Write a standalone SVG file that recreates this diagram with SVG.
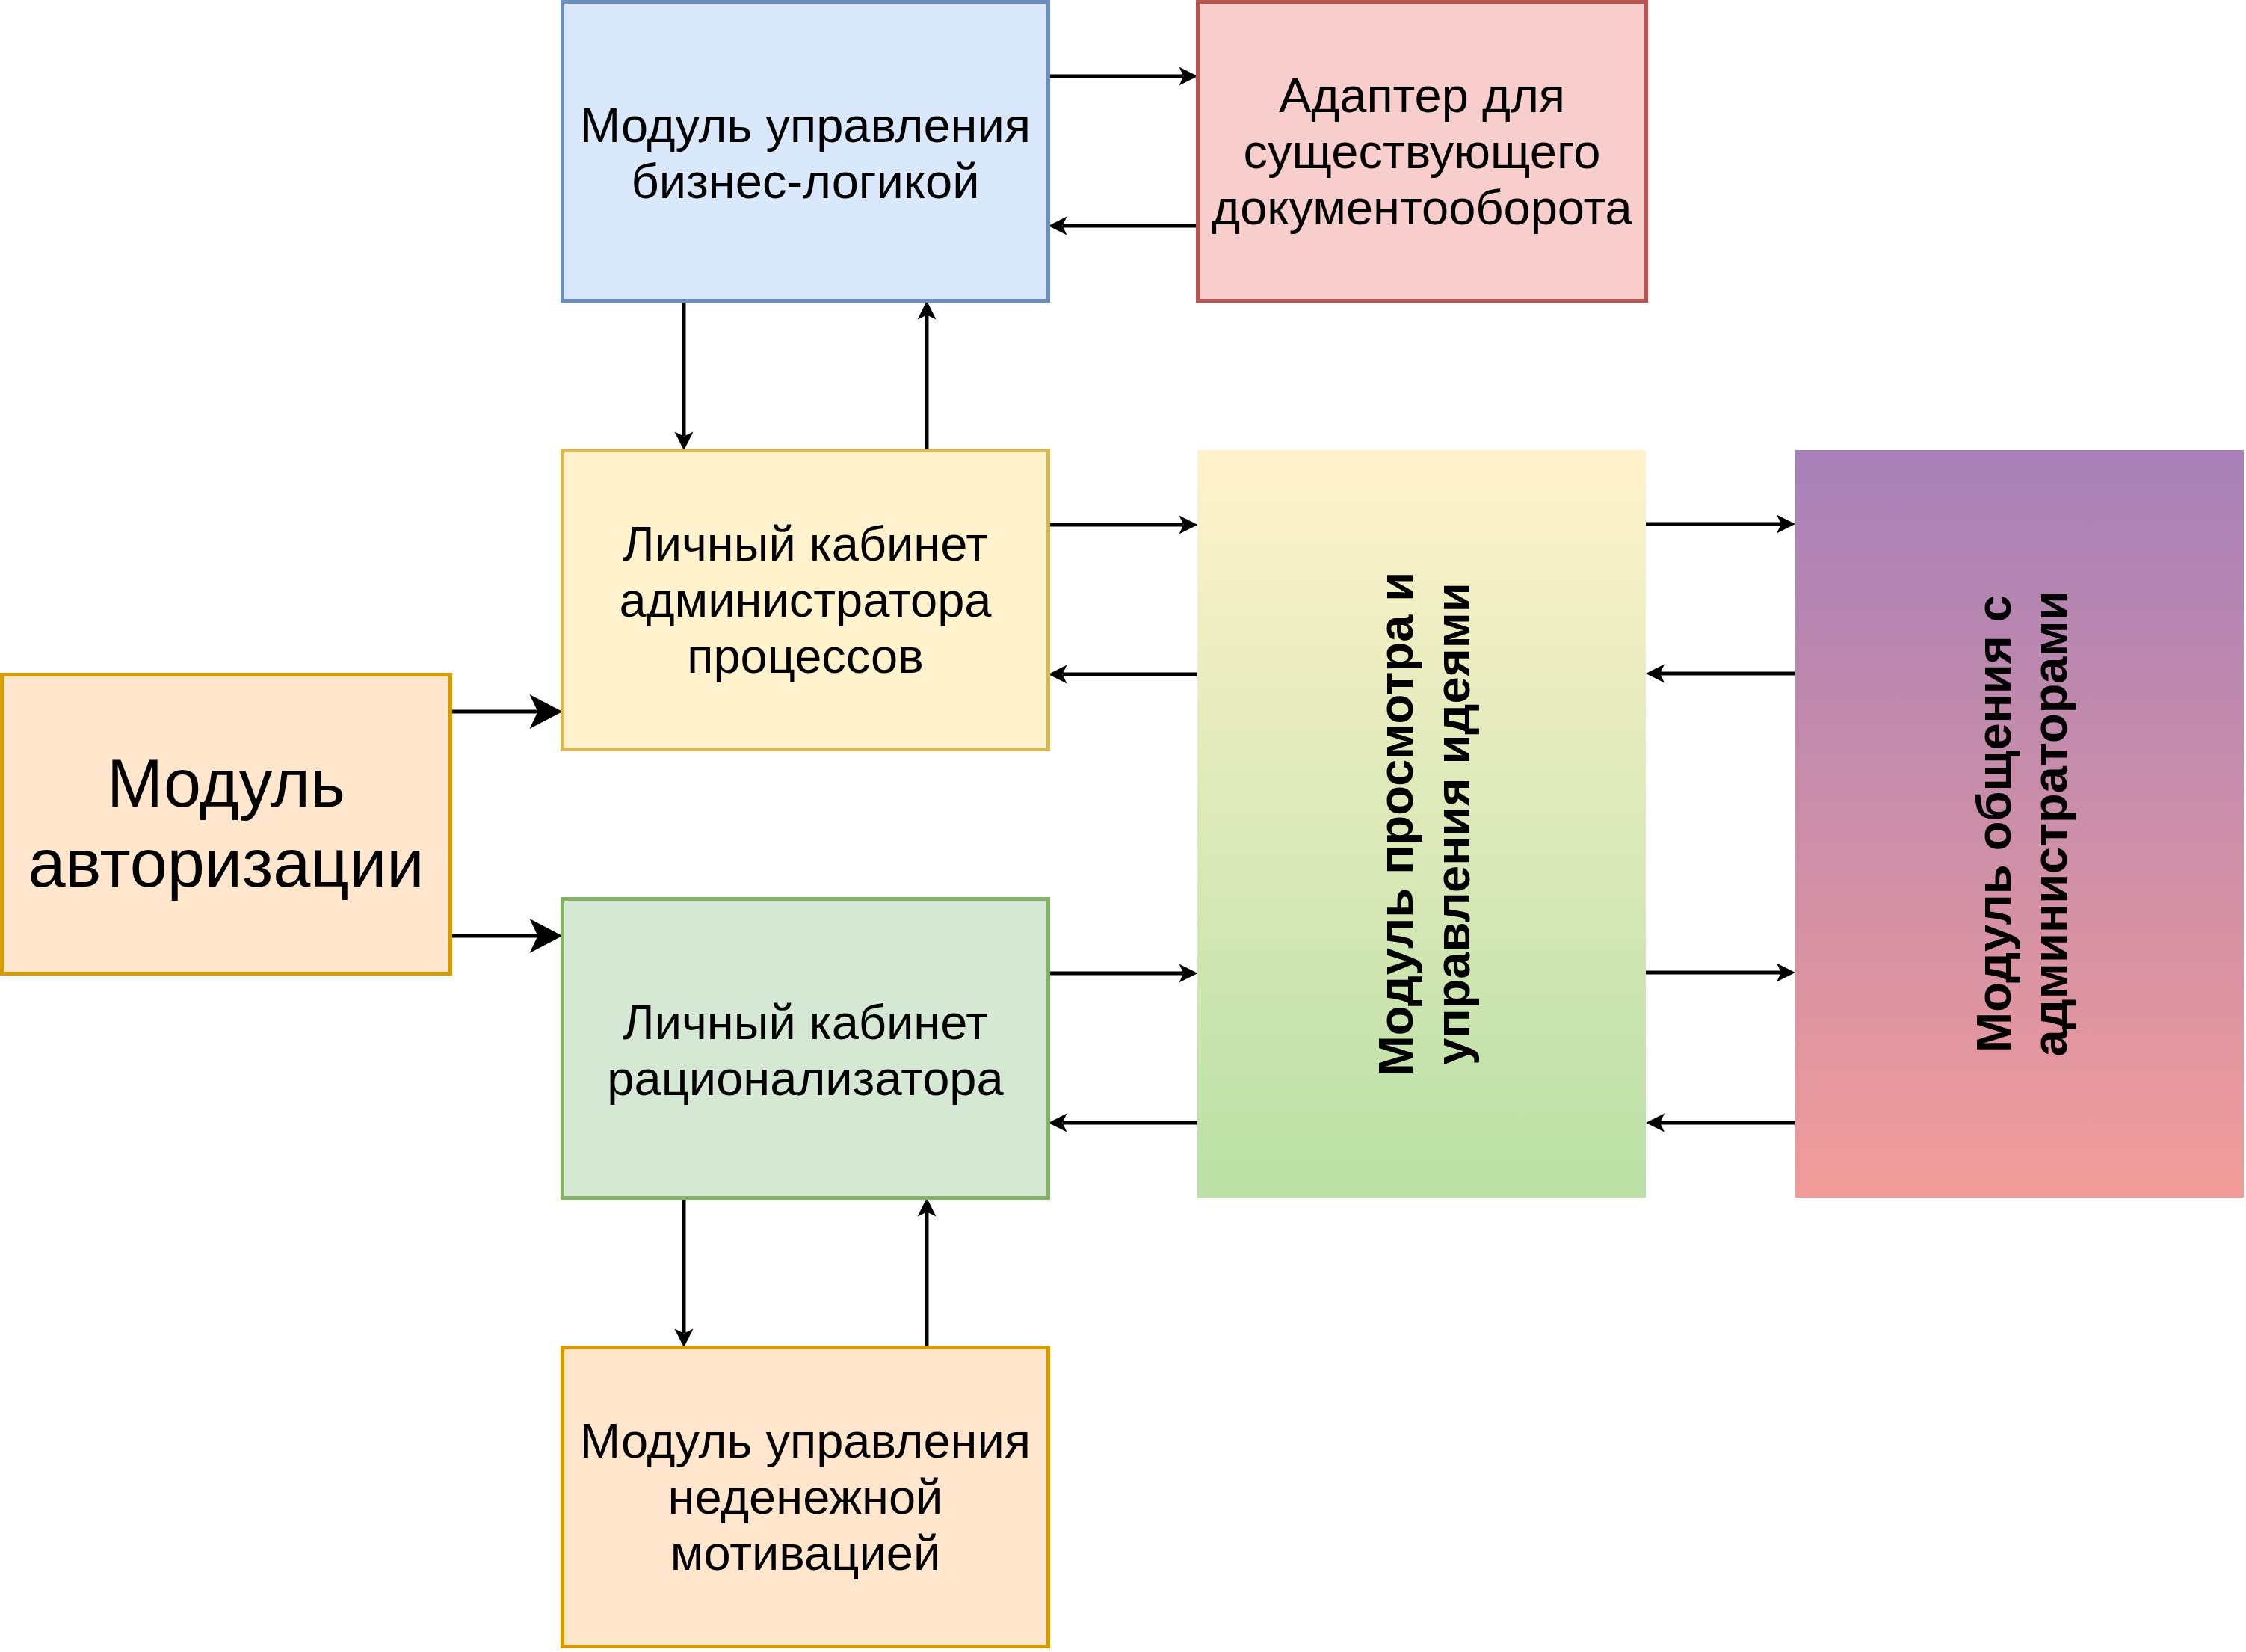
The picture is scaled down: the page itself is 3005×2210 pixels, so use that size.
<svg xmlns="http://www.w3.org/2000/svg" width="3005" height="2210" viewBox="0 0 3005 2210">
<defs>
<linearGradient id="gGreen" x1="0" y1="0" x2="0" y2="1"><stop offset="0" stop-color="#fff2cc"/><stop offset="1" stop-color="#b9e0a5"/></linearGradient>
<linearGradient id="gPurple" x1="0" y1="0" x2="0" y2="1"><stop offset="0" stop-color="#a680b8"/><stop offset="1" stop-color="#f19c99"/></linearGradient>
<style>
.box{stroke-width:5}
.lbl{font-family:"Liberation Sans",Arial,sans-serif;font-size:65px;fill:#000;text-anchor:middle}
.big{font-size:90px}
.bold{font-weight:bold}
.c{fill:none;stroke:#000;stroke-width:5}
</style>
</defs>
<rect width="3005" height="2210" fill="#fff"/>
<g id="connectors">
<line class="c" x1="1402.5" y1="102" x2="1583" y2="102"/><path d="M1602.5,102 l-25,-12.5 l6,12.5 l-6,12.5 Z"/>
<line class="c" x1="1602.5" y1="302" x2="1422" y2="302"/><path d="M1402.5,302 l25,-12.5 l-6,12.5 l6,12.5 Z"/>
<line class="c" x1="915" y1="402.5" x2="915" y2="583"/><path d="M915,602.5 l-12.5,-25 l12.5,6 l12.5,-6 Z"/>
<line class="c" x1="1240" y1="602.5" x2="1240" y2="422"/><path d="M1240,402.5 l-12.5,25 l12.5,-6 l12.5,6 Z"/>
<line class="c" x1="1402.5" y1="702" x2="1583" y2="702"/><path d="M1602.5,702 l-25,-12.5 l6,12.5 l-6,12.5 Z"/>
<line class="c" x1="1602.5" y1="902" x2="1422" y2="902"/><path d="M1402.5,902 l25,-12.5 l-6,12.5 l6,12.5 Z"/>
<line class="c" x1="602.5" y1="952" x2="720" y2="952"/><path d="M752.5,952 l-44,-23 l11,23 l-11,23 Z"/>
<line class="c" x1="602.5" y1="1252" x2="720" y2="1252"/><path d="M752.5,1252 l-44,-23 l11,23 l-11,23 Z"/>
<line class="c" x1="1402.5" y1="1302" x2="1583" y2="1302"/><path d="M1602.5,1302 l-25,-12.5 l6,12.5 l-6,12.5 Z"/>
<line class="c" x1="1602.5" y1="1502" x2="1422" y2="1502"/><path d="M1402.5,1502 l25,-12.5 l-6,12.5 l6,12.5 Z"/>
<line class="c" x1="915" y1="1602.5" x2="915" y2="1783"/><path d="M915,1802.5 l-12.5,-25 l12.5,6 l12.5,-6 Z"/>
<line class="c" x1="1240" y1="1802.5" x2="1240" y2="1622"/><path d="M1240,1602.5 l-12.5,25 l12.5,-6 l12.5,6 Z"/>
<line class="c" x1="2202" y1="701" x2="2383" y2="701"/><path d="M2402,701 l-25,-12.5 l6,12.5 l-6,12.5 Z"/>
<line class="c" x1="2402" y1="901" x2="2221" y2="901"/><path d="M2202,901 l25,-12.5 l-6,12.5 l6,12.5 Z"/>
<line class="c" x1="2202" y1="1301" x2="2383" y2="1301"/><path d="M2402,1301 l-25,-12.5 l6,12.5 l-6,12.5 Z"/>
<line class="c" x1="2402" y1="1502" x2="2221" y2="1502"/><path d="M2202,1502 l25,-12.5 l-6,12.5 l6,12.5 Z"/>
</g>
<g id="node-business">
<rect class="box" x="752.5" y="2.5" width="650" height="400" fill="#dae8fc" stroke="#6c8ebf"/>
<text class="lbl" x="1077.5" y="190">Модуль управления</text>
<text class="lbl" x="1077.5" y="265">бизнес-логикой</text>
</g>
<g id="node-adapter">
<rect class="box" x="1602.5" y="2.5" width="600" height="400" fill="#f8cecc" stroke="#b85450"/>
<text class="lbl" x="1902.5" y="150">Адаптер для</text>
<text class="lbl" x="1902.5" y="225">существующего</text>
<text class="lbl" x="1902.5" y="300">документооборота</text>
</g>
<g id="node-admin">
<rect class="box" x="752.5" y="602.5" width="650" height="400" fill="#fff2cc" stroke="#d6b656"/>
<text class="lbl" x="1077.5" y="750">Личный кабинет</text>
<text class="lbl" x="1077.5" y="825">администратора</text>
<text class="lbl" x="1077.5" y="900">процессов</text>
</g>
<g id="node-auth">
<rect class="box" x="2.5" y="902.5" width="600" height="400" fill="#ffe6cc" stroke="#d79b00"/>
<text class="lbl big" x="302.5" y="1079">Модуль</text>
<text class="lbl big" x="302.5" y="1186">авторизации</text>
</g>
<g id="node-rationalizer">
<rect class="box" x="752.5" y="1202.5" width="650" height="400" fill="#d5e8d4" stroke="#82b366"/>
<text class="lbl" x="1077.5" y="1390">Личный кабинет</text>
<text class="lbl" x="1077.5" y="1465">рационализатора</text>
</g>
<g id="node-motivation">
<rect class="box" x="752.5" y="1802.5" width="650" height="400" fill="#ffe6cc" stroke="#d79b00"/>
<text class="lbl" x="1077.5" y="1950">Модуль управления</text>
<text class="lbl" x="1077.5" y="2025">неденежной</text>
<text class="lbl" x="1077.5" y="2100">мотивацией</text>
</g>
<g id="node-ideas">
<rect x="1602" y="602" width="600" height="1000" fill="url(#gGreen)"/>
<text class="lbl bold" transform="translate(1890,1102) rotate(-90)">Модуль просмотра и</text>
<text class="lbl bold" transform="translate(1966,1102) rotate(-90)">управления идеями</text>
</g>
<g id="node-chat">
<rect x="2402" y="602" width="600" height="1000" fill="url(#gPurple)"/>
<text class="lbl bold" transform="translate(2690,1102) rotate(-90)">Модуль общения с</text>
<text class="lbl bold" transform="translate(2765,1102) rotate(-90)">администраторами</text>
</g>
</svg>
